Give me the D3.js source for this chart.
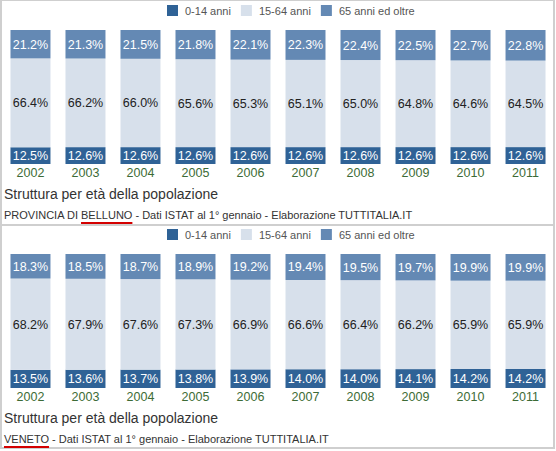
<!DOCTYPE html>
<html>
<head>
<meta charset="utf-8">
<script src="https://cdn.jsdelivr.net/npm/d3@7"></script>
<style>
  body { margin: 0; background: #fff; }
  svg { display: block; font-family: "Liberation Sans", Arial, sans-serif; }
</style>
</head>
<body>
<svg id="chart" width="556" height="451"></svg>
<script>
const years = ["2002", "2003", "2004", "2005", "2006", "2007", "2008", "2009", "2010", "2011"];
const ageGroups = ["0-14 anni", "15-64 anni", "65 anni ed oltre"];

const bellunoYoung = [12.5, 12.6, 12.6, 12.6, 12.6, 12.6, 12.6, 12.6, 12.6, 12.6];
const bellunoAdult = [66.4, 66.2, 66.0, 65.6, 65.3, 65.1, 65.0, 64.8, 64.6, 64.5];
const bellunoOld = [21.2, 21.3, 21.5, 21.8, 22.1, 22.3, 22.4, 22.5, 22.7, 22.8];

const venetoYoung = [13.5, 13.6, 13.7, 13.8, 13.9, 14.0, 14.0, 14.1, 14.2, 14.2];
const venetoAdult = [68.2, 67.9, 67.6, 67.3, 66.9, 66.6, 66.4, 66.2, 65.9, 65.9];
const venetoOld = [18.3, 18.5, 18.7, 18.9, 19.2, 19.4, 19.5, 19.7, 19.9, 19.9];

const panels = [
  { place: "BELLUNO", prefix: "PROVINCIA DI ", young: bellunoYoung, adult: bellunoAdult, old: bellunoOld },
  { place: "VENETO", prefix: "", young: venetoYoung, adult: venetoAdult, old: venetoOld }
];

const colors = ["#2f6296", "#d7e0eb", "#6489b4"];
const textColors = ["#fff", "#222", "#fff"];

const svg = d3.select("#chart");
const panelH = 224;

// frame
svg.append("rect")
  .attr("x", 1).attr("y", 0).attr("width", 553).attr("height", 448)
  .attr("fill", "none").attr("stroke", "#cfcfcf").attr("stroke-width", 2);
svg.append("line")
  .attr("x1", 1).attr("x2", 554).attr("y1", 225).attr("y2", 225)
  .attr("stroke", "#cfcfcf").attr("stroke-width", 2);

const x = d3.scaleBand().domain(years).range([3, 553]).paddingInner(0.273).paddingOuter(0.136);

panels.forEach((p, pi) => {
  const g = svg.append("g").attr("transform", `translate(0,${pi * panelH})`);

  const rows = years.map((yr, i) => ({ year: yr, 0: p.young[i], 1: p.adult[i], 2: p.old[i] }));
  const series = d3.stack().keys([0, 1, 2]).offset(d3.stackOffsetExpand)(rows);

  const y = d3.scaleLinear().domain([0, 1]).range([164, 30]);

  // legend
  const legend = g.append("g").attr("transform", "translate(167,5)");
  let lx = 0;
  ageGroups.forEach((name, i) => {
    const item = legend.append("g").attr("transform", `translate(${lx},0)`);
    item.append("rect").attr("width", 11).attr("height", 11).attr("fill", colors[i]);
    const t = item.append("text")
      .attr("x", 18).attr("y", 10)
      .attr("font-size", 11).attr("fill", "#555")
      .text(name);
    lx += 18 + t.node().getComputedTextLength() + 10;
  });

  // bars
  const layer = g.selectAll(".layer").data(series).join("g").attr("class", "layer");
  layer.selectAll("rect")
    .data(s => s.map(d => ({ d, key: s.key })))
    .join("rect")
    .attr("x", o => x(o.d.data.year))
    .attr("width", x.bandwidth())
    .attr("y", o => y(o.d[1]))
    .attr("height", o => y(o.d[0]) - y(o.d[1]))
    .attr("fill", o => colors[o.key]);

  layer.selectAll("text")
    .data(s => s.map(d => ({ d, key: s.key })))
    .join("text")
    .attr("x", o => x(o.d.data.year) + x.bandwidth() / 2)
    .attr("y", o => (y(o.d[0]) + y(o.d[1])) / 2 + 4.5)
    .attr("text-anchor", "middle")
    .attr("font-size", 12.5)
    .attr("fill", o => textColors[o.key])
    .text(o => o.d.data[o.key].toFixed(1) + "%");

  // x axis labels
  const axis = g.append("g").attr("transform", "translate(0,164)")
    .call(d3.axisBottom(x).tickSize(0).tickPadding(4));
  axis.select(".domain").remove();
  axis.selectAll("text")
    .attr("font-size", 12.5)
    .attr("font-family", "Liberation Sans, Arial, sans-serif")
    .attr("fill", "#3d6b36");

  // titles
  g.append("text")
    .attr("x", 4).attr("y", 199)
    .attr("font-size", 14).attr("fill", "#333")
    .text("Struttura per età della popolazione");

  const sub = g.append("text")
    .attr("x", 4).attr("y", 219)
    .attr("font-size", 11).attr("fill", "#333");
  sub.append("tspan").text(p.prefix);
  const placeSpan = sub.append("tspan").text(p.place);
  sub.append("tspan").text(" - Dati ISTAT al 1° gennaio - Elaborazione TUTTITALIA.IT");

  const pre = p.prefix ? sub.node().getSubStringLength(0, p.prefix.length) : 0;
  const w = placeSpan.node().getComputedTextLength();
  g.append("line")
    .attr("x1", 4 + pre).attr("x2", 4 + pre + w)
    .attr("y1", 223).attr("y2", 223)
    .attr("stroke", "#d40000").attr("stroke-width", 2);
});
</script>
</body>
</html>
